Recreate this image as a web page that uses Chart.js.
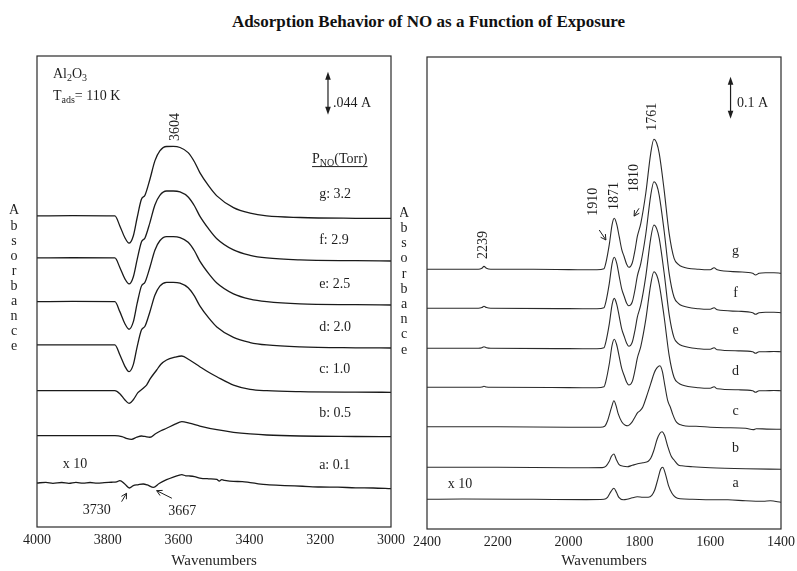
<!DOCTYPE html>
<html>
<head>
<meta charset="utf-8">
<script src="https://cdn.jsdelivr.net/npm/chart.js@4.4.1/dist/chart.umd.min.js"></script>
<style>
html,body{margin:0;padding:0;background:#fff;}
body{width:797px;height:571px;position:relative;overflow:hidden;}
#title{position:absolute;left:0;top:12px;width:857px;text-align:center;font:bold 17px "Liberation Serif","Times New Roman",serif;line-height:20px;color:#111;white-space:nowrap;}
#cL{position:absolute;left:0;top:40px;}
#cR{position:absolute;left:400px;top:40px;}
</style>
</head>
<body>
<div id="title">Adsorption Behavior of NO as a Function of Exposure</div>
<canvas id="cL" width="420" height="531"></canvas>
<canvas id="cR" width="400" height="531"></canvas>
<script>
// ---------------- DATA ----------------
// Spectrum letters (top to bottom) and NO pressures
const spectrumLetters = ['g', 'f', 'e', 'd', 'c', 'b', 'a'];
const pressureLabels = ['g: 3.2', 'f: 2.9', 'e: 2.5', 'd: 2.0', 'c: 1.0', 'b: 0.5', 'a: 0.1'];

// x-axis tick labels (wavenumbers, cm-1)
const ticksLeft = [4000, 3800, 3600, 3400, 3200, 3000];
const ticksRight = [2400, 2200, 2000, 1800, 1600, 1400];

// Vertical offsets of stacked spectra (mA)
const offsetsLeft = [318.2, 275.2, 230.5, 186.2, 139.4, 93.4, 45.0];
const offsetsRight = [618.3, 525.5, 430.2, 337.4, 243.6, 146.9, 70.7];

// Left panel: OH region, [wavenumber, absorbance (mA)]
const left_g = [[4000,0],[3900,0.3],[3780,0],[3766,-10.2],[3752,-22.1],[3740,-27.9],[3728,-20.5],[3717,-1.6],[3705,17.1],[3695,21.2],[3681,37.5],[3667,56.3],[3653,66.5],[3634,71.0],[3615,71.1],[3596,70.0],[3573,64.8],[3555,55.2],[3540,44.3],[3515,30.7],[3492,20.5],[3445,8.5],[3398,2.8],[3351,0],[3257,-1.6],[3100,-2.4],[3000,-2.6]];
const left_f = [[4000,0],[3900,0.2],[3780,0],[3766,-9.7],[3752,-21.1],[3740,-26.6],[3728,-19.4],[3717,-1.5],[3705,16.4],[3695,20.5],[3681,36.2],[3667,54.2],[3653,64.1],[3634,68.5],[3615,68.5],[3596,67.5],[3573,62.4],[3555,53.2],[3540,42.8],[3515,29.7],[3492,19.7],[3445,8.2],[3398,2.7],[3351,0],[3257,-2.0],[3100,-2.8],[3000,-3.1]];
const left_e = [[4000,0],[3900,0.2],[3780,0],[3766,-10.2],[3752,-22.3],[3740,-28.2],[3728,-20.7],[3717,-1.6],[3705,15.9],[3695,19.8],[3681,35.2],[3667,52.7],[3653,62.3],[3634,66.5],[3615,66.5],[3596,65.5],[3573,60.7],[3555,51.8],[3540,41.5],[3515,28.7],[3492,19.1],[3445,8.0],[3398,2.6],[3351,0],[3257,-2.3],[3100,-3.1],[3000,-3.4]];
const left_d = [[4000,0],[3900,0.2],[3780,0],[3766,-10.0],[3752,-21.6],[3740,-27.3],[3728,-20.1],[3717,-1.6],[3705,15.3],[3695,19.1],[3681,34.0],[3667,50.8],[3653,60.2],[3634,64.1],[3615,64.1],[3596,63.2],[3573,58.5],[3555,49.9],[3540,40.0],[3515,27.7],[3492,18.5],[3445,7.7],[3398,2.5],[3351,0],[3257,-2.0],[3100,-2.9],[3000,-3.1]];
const left_c = [[4000,0],[3900,0.2],[3780,0],[3766,-3.1],[3752,-9.2],[3740,-12.9],[3728,-9.2],[3715,-2.0],[3700,2.5],[3690,6.1],[3680,12.3],[3662,21.2],[3650,27.1],[3634,31.4],[3610,34.3],[3591,35.5],[3570,31.7],[3540,24.6],[3515,18.9],[3492,14.3],[3445,5.8],[3398,1.4],[3351,0],[3257,-1.0],[3100,-1.5],[3000,-1.6]];
const left_b = [[4000,0],[3900,0.1],[3780,0],[3760,-1.0],[3745,-3.1],[3733,-3.7],[3718,-1.5],[3705,-0.3],[3695,-0.8],[3681,-1.6],[3665,2.0],[3650,5.1],[3634,7.6],[3610,11.8],[3591,14.3],[3570,12.8],[3540,9.9],[3492,6.1],[3445,3.5],[3398,1.8],[3351,0.7],[3257,-0.3],[3100,-0.8],[3000,-1.0]];
const left_a = [[4000,0],[3975,0.6],[3955,-0.3],[3930,0.5],[3910,-0.4],[3890,0.6],[3870,-0.2],[3850,0.5],[3830,-0.1],[3810,0.3],[3790,0.8],[3775,1.2],[3766,2.4],[3752,-1.0],[3739,-5.1],[3728,-2.6],[3715,-1.8],[3700,-1.0],[3688,-2.0],[3671,-4.5],[3655,-0.5],[3634,3.4],[3615,6.1],[3600,7.8],[3591,8.5],[3580,7.4],[3570,7.2],[3555,6.6],[3540,5.1],[3515,4.3],[3492,3.6],[3485,2.0],[3478,3.4],[3470,2.7],[3445,1.6],[3420,1.5],[3398,0.3],[3375,-0.8],[3351,-1.7],[3300,-2.6],[3250,-3.3],[3200,-4.1],[3150,-4.3],[3100,-4.9],[3050,-5.1],[3000,-5.8]];

// Right panel: NO region, [wavenumber, absorbance (mA)]
const right_g = [[2400,0],[2300,0],[2255,0],[2245,2.4],[2239,7.1],[2232,2.4],[2220,0],[2100,0],[2000,-0.7],[1920,-1.2],[1900,1.2],[1895,14.3],[1885,59.5],[1877,107.1],[1871,121.4],[1864,107.1],[1857,77.6],[1850,47.6],[1843,30.0],[1836,11.9],[1830,4.8],[1820,15.7],[1812,47.6],[1806,77.6],[1796,109.5],[1782,181.0],[1768,276.2],[1759,309.5],[1751,300.0],[1744,276.2],[1730,188.1],[1716,85.7],[1702,26.2],[1690,11.9],[1679,6.2],[1632,0],[1600,-1.2],[1589,3.6],[1580,-1.2],[1520,-6.0],[1480,-9.5],[1472,-13.6],[1462,-9.5],[1444,-8.1],[1420,-8.1],[1400,-9.5]];
const right_f = [[2400,0],[2300,0],[2255,0],[2245,1.7],[2239,4.8],[2232,1.7],[2220,0],[2000,-0.7],[1920,-1.2],[1900,1.2],[1895,14.3],[1885,59.5],[1877,107.1],[1871,121.4],[1864,107.1],[1857,76.2],[1850,46.4],[1843,28.6],[1836,11.9],[1830,6.0],[1820,15.5],[1812,46.4],[1806,76.2],[1796,107.1],[1782,176.2],[1768,269.0],[1759,301.4],[1751,292.9],[1744,269.0],[1730,183.3],[1716,83.3],[1702,26.2],[1690,11.9],[1679,6.0],[1632,-1.2],[1600,-2.4],[1589,1.2],[1580,-3.6],[1520,-7.1],[1480,-10.7],[1472,-14.3],[1462,-10.7],[1444,-9.5],[1420,-9.5],[1400,-10.5]];
const right_e = [[2400,0],[2300,0],[2255,0],[2245,1.2],[2239,3.6],[2232,1.2],[2220,0],[2000,-0.7],[1920,-1.2],[1900,1.2],[1895,14.3],[1885,58.3],[1877,104.8],[1871,119.0],[1864,104.8],[1857,76.2],[1850,46.4],[1843,28.6],[1836,11.9],[1830,4.8],[1820,15.0],[1812,45.2],[1806,73.8],[1796,103.8],[1782,171.4],[1768,261.9],[1759,293.6],[1751,284.5],[1744,261.9],[1730,178.6],[1716,81.0],[1702,24.8],[1690,11.2],[1679,6.0],[1632,-1.2],[1600,-2.4],[1589,1.2],[1580,-3.6],[1520,-6.0],[1480,-8.3],[1472,-11.9],[1462,-8.3],[1444,-8.1],[1420,-7.6],[1400,-8.1]];
const right_d = [[2400,0],[2300,0],[2255,0],[2245,0.7],[2239,2.4],[2232,0.7],[2220,0],[2000,-0.7],[1920,-1.2],[1900,1.2],[1895,13.3],[1885,56.0],[1877,100.7],[1871,114.3],[1864,100.7],[1857,72.9],[1850,44.8],[1843,28.1],[1836,11.9],[1830,5.5],[1820,14.0],[1812,42.4],[1806,69.0],[1796,97.6],[1782,161.0],[1768,245.2],[1759,275.2],[1751,266.7],[1744,245.2],[1730,166.7],[1716,76.2],[1702,23.3],[1690,10.5],[1679,5.5],[1632,-1.2],[1600,-2.4],[1589,1.2],[1580,-3.6],[1520,-6.0],[1480,-8.3],[1472,-11.9],[1462,-8.3],[1444,-8.1],[1420,-7.6],[1400,-8.1]];
const right_c = [[2400,0],[2200,0],[2000,-1.2],[1910,-1.2],[1898,1.2],[1890,14.3],[1879,45.2],[1872,61.9],[1866,50.0],[1860,31.0],[1850,11.9],[1840,3.6],[1832,2.4],[1822,9.5],[1812,23.8],[1805,33.3],[1798,38.1],[1790,47.6],[1780,71.4],[1768,102.4],[1758,128.6],[1750,140.5],[1742,145.2],[1735,131.0],[1728,97.6],[1720,61.9],[1712,45.2],[1706,30.0],[1698,14.3],[1690,7.1],[1680,3.6],[1660,1.2],[1640,1.2],[1600,-1.2],[1560,-2.4],[1500,-3.6],[1478,-7.1],[1470,-4.8],[1440,-5.7],[1400,-6.2]];
const right_b = [[2400,0],[2200,0],[2000,-1.2],[1905,-0.7],[1895,2.4],[1885,14.3],[1879,26.2],[1872,31.7],[1865,18.0],[1858,7.1],[1845,2.4],[1834,1.4],[1820,4.8],[1805,8.3],[1790,10.7],[1775,14.3],[1768,21.4],[1760,38.1],[1750,66.7],[1742,81.0],[1736,84.8],[1729,76.2],[1720,50.0],[1710,26.2],[1702,17.4],[1690,5.5],[1680,3.6],[1650,1.2],[1600,-1.2],[1500,-3.6],[1400,-4.8]];
const right_a = [[2400,0],[2300,0.7],[2100,0],[1950,-0.7],[1900,0],[1890,4.8],[1880,19.0],[1872,26.2],[1865,16.7],[1858,4.8],[1845,-1.2],[1835,0],[1820,3.6],[1806,6.2],[1790,4.8],[1775,5.0],[1765,9.5],[1757,21.4],[1748,47.6],[1740,71.4],[1734,76.2],[1727,61.9],[1718,33.3],[1708,14.3],[1698,4.8],[1685,1.2],[1650,0],[1600,-1.2],[1550,-1.2],[1500,-3.6],[1450,-4.8],[1430,-3.6],[1400,-7.1]];

const seriesLeft = [left_g, left_f, left_e, left_d, left_c, left_b, left_a];
const seriesRight = [right_g, right_f, right_e, right_d, right_c, right_b, right_a];

// ---------------- DRAWING ----------------
const FONT = '"Liberation Serif", "Times New Roman", serif';
const INK = '#1e1e1e';
const fnt = (s, b) => (b ? 'bold ' : '') + s + 'px ' + FONT;

function drawRuns(ctx, x0, yMid, runs, size, underline) {
  const base = yMid + size * 0.33;
  let cx = x0;
  ctx.textAlign = 'left';
  ctx.textBaseline = 'alphabetic';
  for (const [t, k] of runs) {
    const fs = k === 'sub' ? Math.round(size * 0.68) : size;
    ctx.font = fnt(fs);
    ctx.fillText(t, cx, base + (k === 'sub' ? size * 0.22 : 0));
    cx += ctx.measureText(t).width;
  }
  if (underline) {
    ctx.lineWidth = 1;
    ctx.beginPath(); ctx.moveTo(x0, base + 4); ctx.lineTo(cx, base + 4); ctx.stroke();
  }
}
function arrowLine(ctx, x1, y1, x2, y2, head) {
  ctx.lineWidth = 1;
  ctx.beginPath(); ctx.moveTo(x1, y1); ctx.lineTo(x2, y2); ctx.stroke();
  const ang = Math.atan2(y2 - y1, x2 - x1);
  ctx.beginPath();
  ctx.moveTo(x2 - head * Math.cos(ang - 0.5), y2 - head * Math.sin(ang - 0.5));
  ctx.lineTo(x2, y2);
  ctx.lineTo(x2 - head * Math.cos(ang + 0.5), y2 - head * Math.sin(ang + 0.5));
  ctx.stroke();
}
function scaleBar(ctx, x, yTop, yBot) {
  ctx.lineWidth = 1.2;
  ctx.beginPath(); ctx.moveTo(x, yTop + 5); ctx.lineTo(x, yBot - 5); ctx.stroke();
  ctx.beginPath(); ctx.moveTo(x, yTop); ctx.lineTo(x - 2.8, yTop + 8); ctx.lineTo(x + 2.8, yTop + 8); ctx.closePath(); ctx.fill();
  ctx.beginPath(); ctx.moveTo(x, yBot); ctx.lineTo(x - 2.8, yBot - 8); ctx.lineTo(x + 2.8, yBot - 8); ctx.closePath(); ctx.fill();
}

function notesPlugin(notes) {
  return {
    id: 'notes',
    afterDatasetsDraw(chart) {
      const { ctx, chartArea: ca, scales: { x, y } } = chart;
      const X = w => x.getPixelForValue(w), Y = v => y.getPixelForValue(v);
      ctx.save();
      ctx.strokeStyle = '#2a2a2a';
      ctx.lineWidth = 1.2;
      ctx.strokeRect(ca.left, ca.top, ca.right - ca.left, ca.bottom - ca.top);
      ctx.fillStyle = INK;
      ctx.strokeStyle = INK;
      for (const n of notes) {
        const size = n.size || 14;
        if (n.t === 'text') {
          ctx.font = fnt(size);
          ctx.textAlign = n.align || 'left';
          ctx.textBaseline = 'middle';
          ctx.fillText(n.text, X(n.wn), Y(n.v));
        } else if (n.t === 'runs') {
          drawRuns(ctx, X(n.wn), Y(n.v), n.runs, size, n.underline);
        } else if (n.t === 'rot') {
          ctx.save();
          ctx.translate(X(n.wn), Y(n.v));
          ctx.rotate(-Math.PI / 2);
          ctx.font = fnt(size);
          ctx.textAlign = 'center';
          ctx.textBaseline = 'middle';
          ctx.fillText(n.text, 0, 0);
          ctx.restore();
        } else if (n.t === 'arrow') {
          arrowLine(ctx, X(n.from[0]), Y(n.from[1]), X(n.to[0]), Y(n.to[1]), 6);
        } else if (n.t === 'bar') {
          scaleBar(ctx, X(n.wn), Y(n.v2), Y(n.v1));
        } else if (n.t === 'stack') {
          ctx.font = fnt(size);
          ctx.textAlign = 'center';
          ctx.textBaseline = 'middle';
          const letters = n.text.split('');
          const yc = Y(n.v);
          letters.forEach((ch, i) => {
            ctx.fillText(ch, ca.left + n.dx, yc + (i - (letters.length - 1) / 2) * n.gap);
          });
        }
      }
      ctx.restore();
    }
  };
}

const leftLabelY = [340.7, 293.6, 248.3, 204.3, 161.3, 116.3, 63.4];
const leftNotes = [
  { t: 'runs', wn: 3955, v: 464.4, runs: [['Al'], ['2', 'sub'], ['O'], ['3', 'sub']] },
  { t: 'runs', wn: 3955, v: 441.9, runs: [['T'], ['ads', 'sub'], ['= 110 K']] },
  { t: 'bar', wn: 3178, v1: 421.8, v2: 465.8 },
  { t: 'text', wn: 3164, v: 433.8, text: '.044 A' },
  { t: 'rot', wn: 3610, v: 409.2, text: '3604' },
  { t: 'runs', wn: 3223, v: 377.5, runs: [['P'], ['NO', 'sub'], ['(Torr)']], underline: true },
  ...pressureLabels.map((s, i) => ({ t: 'text', wn: 3203, v: leftLabelY[i], text: s })),
  { t: 'text', wn: 3927, v: 64.4, text: 'x 10' },
  { t: 'text', wn: 3831, v: 17.4, text: '3730', align: 'center' },
  { t: 'arrow', from: [3761, 25.9], to: [3747, 34.5] },
  { t: 'text', wn: 3590, v: 15.7, text: '3667', align: 'center' },
  { t: 'arrow', from: [3619, 29.4], to: [3662, 37.2] },
  { t: 'stack', dx: -23, v: 254, text: 'Absorbance', gap: 15.1 }
];

const rightLabelY = [660.3, 561.2, 472.2, 374.5, 279.3, 192.9, 109.5];
const rightNotes = [
  { t: 'bar', wn: 1542.5, v1: 977, v2: 1077 },
  { t: 'text', wn: 1524.5, v: 1013.6, text: '0.1 A' },
  { t: 'rot', wn: 1763, v: 981.7, text: '1761' },
  { t: 'rot', wn: 1813, v: 835.7, text: '1810' },
  { t: 'arrow', from: [1801, 763.6], to: [1815, 745.0] },
  { t: 'rot', wn: 1871, v: 792.9, text: '1871' },
  { t: 'rot', wn: 1930, v: 779.3, text: '1910' },
  { t: 'arrow', from: [1913.5, 711.9], to: [1894.6, 688.1] },
  { t: 'rot', wn: 2242, v: 676.2, text: '2239' },
  ...spectrumLetters.map((s, i) => ({ t: 'text', wn: 1528.5, v: rightLabelY[i], text: s, align: 'center' })),
  { t: 'text', wn: 2341.7, v: 106.4, text: 'x 10' },
  { t: 'stack', dx: -23, v: 589.3, text: 'Absorbance', gap: 15.2 }
];

function buildChart(canvasId, series, offsets, ticks, yMax, pad, axisH, notes, lineW, lineC) {
  const xmin = Math.min(...ticks), xmax = Math.max(...ticks);
  return new Chart(document.getElementById(canvasId), {
    type: 'line',
    data: {
      datasets: series.map((s, i) => ({
        label: spectrumLetters[i],
        data: s.map(([w, v]) => ({ x: w, y: v + offsets[i] })),
        borderColor: lineC,
        borderWidth: lineW,
        pointRadius: 0,
        fill: false,
        cubicInterpolationMode: 'monotone'
      }))
    },
    options: {
      responsive: false,
      animation: false,
      events: [],
      layout: { padding: pad },
      plugins: { legend: { display: false }, tooltip: { enabled: false } },
      scales: {
        x: {
          type: 'linear',
          reverse: true,
          min: xmin,
          max: xmax,
          afterFit: s => { s.height = axisH; },
          afterBuildTicks: s => { s.ticks = ticks.map(v => ({ value: v })); },
          grid: { display: false, drawTicks: false },
          border: { display: false },
          ticks: {
            padding: 5,
            autoSkip: false,
            maxRotation: 0,
            color: INK,
            font: { family: FONT, size: 14 },
            callback: v => String(v)
          },
          title: {
            display: true,
            text: 'Wavenumbers',
            color: INK,
            font: { family: FONT, size: 15 },
            padding: { top: 0, bottom: 1 }
          }
        },
        y: { display: false, min: 0, max: yMax }
      }
    },
    plugins: [notesPlugin(notes)]
  });
}

buildChart('cL', seriesLeft, offsetsLeft, ticksLeft, 481.8,
  { left: 37, right: 29, top: 16, bottom: 0 }, 44, leftNotes, 1.3, '#1a1a1a');
buildChart('cR', seriesRight, offsetsRight, ticksRight, 1123.8,
  { left: 27, right: 18, top: 17, bottom: 0 }, 42, rightNotes, 1.1, '#2a2a2a');
</script>
</body>
</html>
